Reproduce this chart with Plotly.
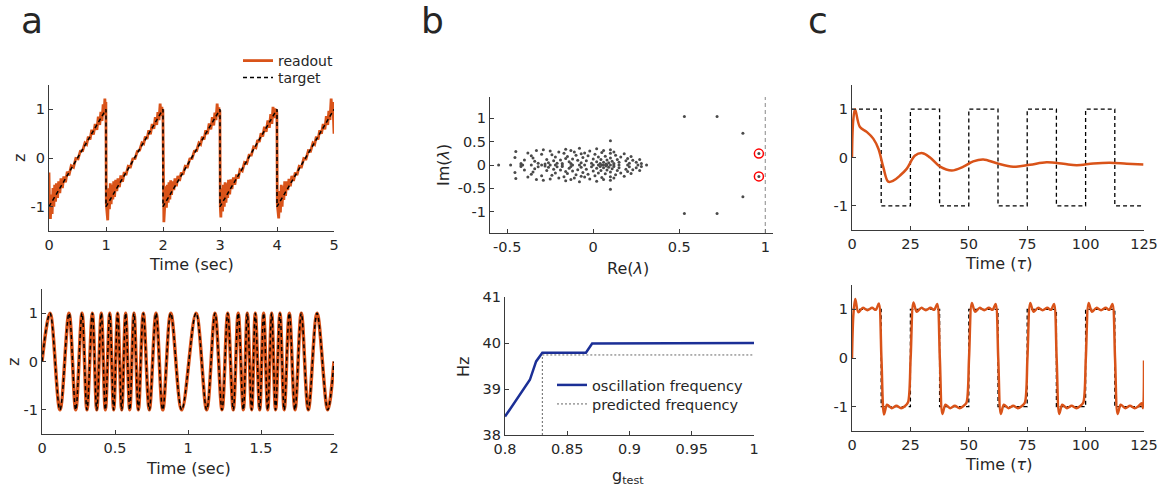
import plotly.graph_objects as go

W, H = 1162, 489
FONT = "DejaVu Sans"
TXT = "#262626"
ORANGE = "#D95319"
BLUE = "#1B2F96"

# ---------------- panel a (top): sawtooth ----------------
SAW_TARGET_T = [0, 1, 1, 2, 2, 3, 3, 4, 4, 5]
SAW_TARGET_Z = [-1, 1, -1, 1, -1, 1, -1, 1, -1, 1]

SAW_READ_T = [
    0.000, 0.010, 0.025, 0.040, 0.055, 0.070, 0.085, 0.100, 0.115, 0.130,
    0.150, 0.170, 0.190, 0.210, 0.235, 0.260, 0.290, 0.320, 0.350, 0.390,
    0.430, 0.470, 0.510, 0.550, 0.590, 0.630, 0.660, 0.690, 0.720, 0.750,
    0.780, 0.810, 0.840, 0.865, 0.890, 0.910, 0.930, 0.950, 0.965, 0.980,
    0.992, 0.998,
    1.005, 1.015, 1.030, 1.045, 1.060, 1.075, 1.090, 1.105, 1.120, 1.135,
    1.150, 1.170, 1.190, 1.210, 1.235, 1.260, 1.290, 1.320, 1.350, 1.390,
    1.430, 1.470, 1.510, 1.550, 1.590, 1.630, 1.660, 1.690, 1.720, 1.750,
    1.780, 1.810, 1.840, 1.865, 1.890, 1.910, 1.930, 1.950, 1.965, 1.980,
    1.992, 1.998,
    2.005, 2.015, 2.030, 2.045, 2.060, 2.075, 2.090, 2.105, 2.120, 2.135,
    2.150, 2.170, 2.190, 2.210, 2.235, 2.260, 2.290, 2.320, 2.350, 2.390,
    2.430, 2.470, 2.510, 2.550, 2.590, 2.630, 2.660, 2.690, 2.720, 2.750,
    2.780, 2.810, 2.840, 2.865, 2.890, 2.910, 2.930, 2.950, 2.965, 2.980,
    2.992, 2.998,
    3.005, 3.015, 3.030, 3.045, 3.060, 3.075, 3.090, 3.105, 3.120, 3.135,
    3.150, 3.170, 3.190, 3.210, 3.235, 3.260, 3.290, 3.320, 3.350, 3.390,
    3.430, 3.470, 3.510, 3.550, 3.590, 3.630, 3.660, 3.690, 3.720, 3.750,
    3.780, 3.810, 3.840, 3.865, 3.890, 3.910, 3.930, 3.950, 3.965, 3.980,
    3.992, 3.998,
    4.005, 4.015, 4.030, 4.045, 4.060, 4.075, 4.090, 4.105, 4.120, 4.135,
    4.150, 4.170, 4.190, 4.210, 4.235, 4.260, 4.290, 4.320, 4.350, 4.390,
    4.430, 4.470, 4.510, 4.550, 4.590, 4.630, 4.660, 4.690, 4.720, 4.750,
    4.780, 4.810, 4.840, 4.865, 4.890, 4.910, 4.930, 4.950, 4.965, 4.980,
    4.992, 5.000,
]
SAW_READ_Z = [
    -0.30, -1.10, -1.25, -0.75, -1.15, -0.62, -1.00, -0.55, -0.90, -0.52,
    -0.82, -0.48, -0.72, -0.42, -0.62, -0.38, -0.50, -0.28, -0.36, -0.16,
    -0.19, -0.01, -0.02, 0.14, 0.15, 0.31, 0.28, 0.44, 0.38, 0.58,
    0.48, 0.70, 0.58, 0.85, 0.68, 0.95, 0.76, 1.10, 0.88, 1.22,
    0.95, 1.15,
    -0.95, -1.15, -1.28, -0.62, -1.05, -0.52, -0.95, -0.55, -0.85, -0.48,
    -0.80, -0.45, -0.68, -0.42, -0.60, -0.36, -0.49, -0.29, -0.35, -0.17,
    -0.18, -0.02, -0.01, 0.14, 0.16, 0.31, 0.29, 0.44, 0.39, 0.57,
    0.49, 0.70, 0.60, 0.84, 0.68, 0.94, 0.78, 1.12, 0.86, 1.05,
    0.88, 1.00,
    -0.90, -1.32, -1.00, -0.58, -1.02, -0.55, -0.92, -0.50, -0.85, -0.46,
    -0.76, -0.48, -0.66, -0.42, -0.58, -0.37, -0.47, -0.30, -0.34, -0.17,
    -0.18, -0.02, -0.01, 0.14, 0.15, 0.31, 0.28, 0.44, 0.38, 0.57,
    0.49, 0.71, 0.59, 0.84, 0.67, 0.93, 0.78, 1.12, 0.86, 1.04,
    0.84, 0.98,
    -1.00, -1.22, -0.62, -1.10, -0.55, -1.00, -0.50, -0.92, -0.52, -0.82,
    -0.45, -0.75, -0.44, -0.64, -0.40, -0.55, -0.34, -0.42, -0.24, -0.27,
    -0.09, -0.11, 0.06, 0.06, 0.23, 0.21, 0.37, 0.33, 0.51, 0.44,
    0.64, 0.54, 0.77, 0.62, 0.90, 0.70, 1.05, 0.82, 1.02, 0.85,
    1.00, 0.92,
    -0.95, -1.18, -1.24, -0.68, -1.12, -0.55, -1.00, -0.58, -0.86, -0.48,
    -0.78, -0.48, -0.66, -0.43, -0.58, -0.37, -0.47, -0.30, -0.35, -0.17,
    -0.18, -0.01, -0.02, 0.15, 0.14, 0.31, 0.28, 0.44, 0.38, 0.57,
    0.50, 0.70, 0.59, 0.86, 0.68, 0.97, 0.78, 1.22, 0.95, 1.15,
    0.70, 0.50,
]

# ---------------- panel a (bottom): chirp (extrema) ----------------
CHIRP_T = [0.0, 0.055, 0.123, 0.185, 0.231, 0.274, 0.308, 0.345, 0.375, 0.406,
           0.434, 0.464, 0.491, 0.518, 0.546, 0.573, 0.601, 0.630, 0.660, 0.694,
           0.735, 0.781, 0.827, 0.882, 0.957, 1.055, 1.128, 1.185, 1.233, 1.272,
           1.310, 1.344, 1.379, 1.406, 1.436, 1.461, 1.491, 1.518, 1.546, 1.573,
           1.600, 1.630, 1.659, 1.694, 1.733, 1.776, 1.824, 1.884, 1.957, 2.0]
CHIRP_Z = [0, 1, -1, 1, -1, 1, -1, 1, -1, 1,
           -1, 1, -1, 1, -1, 1, -1, 1, -1, 1,
           -1, 1, -1, 1, -1, 1, -1, 1, -1, 1,
           -1, 1, -1, 1, -1, 1, -1, 1, -1, 1,
           -1, 1, -1, 1, -1, 1, -1, 1, -1, 0]

# ---------------- panel b (top): eigenvalues ----------------
EIG_REAL_AXIS = [-0.55, -0.48, -0.42, -0.41, -0.36, -0.30, -0.25, -0.22, -0.18, -0.12,
                 -0.08, -0.05, 0.0, 0.03, 0.05, 0.06, 0.08, 0.10, 0.12, 0.15, 0.20, 0.26, 0.31]
EIG_UP_RE = [-0.45, -0.455, -0.42, -0.36, -0.35, -0.33, -0.34, -0.32, -0.29, -0.27,
             -0.26, -0.24, -0.23, -0.22, -0.21, -0.19, -0.17, -0.16, -0.15, -0.14,
             -0.13, -0.12, -0.11, -0.10, -0.09, -0.08, -0.07, -0.06, -0.05, -0.04,
             -0.03, -0.02, -0.01, 0.00, 0.01, 0.02, 0.03, 0.04, 0.045, 0.05,
             0.06, 0.07, 0.075, 0.08, 0.09, 0.10, 0.10, 0.10, 0.10, 0.11,
             0.12, 0.13, 0.14, 0.15, 0.16, 0.18, 0.19, 0.20, 0.21, 0.22,
             0.23, 0.25, 0.27, 0.28, -0.38, -0.40, -0.30, -0.28, -0.25, -0.20,
             -0.18, -0.16, -0.13, 0.02, 0.06, 0.12, -0.07,
             0.53, 0.72, 0.87, 0.963]
EIG_UP_IM = [0.29, 0.16, 0.03, 0.20, 0.15, 0.31, 0.08, 0.04, 0.33, 0.12,
             0.05, 0.22, 0.09, 0.17, 0.04, 0.11, 0.25, 0.34, 0.18, 0.07,
             0.03, 0.13, 0.28, 0.21, 0.10, 0.36, 0.05, 0.16, 0.26, 0.09,
             0.20, 0.30, 0.04, 0.13, 0.23, 0.07, 0.17, 0.03, 0.12, 0.27,
             0.06, 0.19, 0.02, 0.11, 0.05, 0.52, 0.33, 0.25, 0.15, 0.08,
             0.03, 0.21, 0.12, 0.06, 0.17, 0.24, 0.09, 0.14, 0.04, 0.18,
             0.10, 0.06, 0.12, 0.03, 0.26, 0.11, 0.23, 0.02, 0.30, 0.28,
             0.03, 0.14, 0.31, 0.35, 0.31, 0.28, 0.24,
             1.04, 1.04, 0.68, 0.245]
EIG_SEL_RE = [0.963, 0.963]
EIG_SEL_IM = [0.245, -0.245]

# ---------------- panel b (bottom): frequency ----------------
OSC_G = [0.800, 0.812, 0.820, 0.825, 0.830, 0.865, 0.870, 1.000]
OSC_HZ = [38.40, 38.87, 39.20, 39.60, 39.79, 39.79, 39.99, 40.00]
PRED_G = [0.830, 0.830, 1.000]
PRED_HZ = [38.00, 39.74, 39.74]

# ---------------- panel c: square wave ----------------
SQ_T = [0, 12.5, 12.5, 25, 25, 37.5, 37.5, 50, 50, 62.5, 62.5, 75, 75, 87.5, 87.5,
        100, 100, 112.5, 112.5, 125]
SQ_Z = [1, 1, -1, -1, 1, 1, -1, -1, 1, 1, -1, -1, 1, 1, -1, -1, 1, 1, -1, -1]

DAMP_T = [0, 0.5, 1.3, 3.4, 6.3, 9.1, 11.3, 13.4, 15.5, 17.7, 20.5, 23.4, 27.0, 30.2,
          33.4, 37.7, 42.7, 47.7, 51.9, 56.2, 62.0, 69.0, 76.2, 83.3, 90.5, 96.2,
          103.3, 110.4, 117.6, 124.7]
DAMP_Z = [0, 0.75, 1.0, 0.63, 0.53, 0.39, 0.18, -0.20, -0.50, -0.48, -0.375, -0.235,
          0.04, 0.09, 0.0, -0.19, -0.27, -0.19, -0.08, -0.04, -0.12, -0.19, -0.15,
          -0.10, -0.13, -0.16, -0.125, -0.11, -0.13, -0.145]

TRAIN_T = [0, 0.6, 1.4, 2.7, 4.6, 6.6, 8.6, 10.2, 11.5, 12.6, 13.7, 15.0, 17.0, 19.0, 21.0, 22.6, 24.0,
           25.1, 26.3, 27.7, 29.6, 31.6, 33.6, 35.2, 36.5, 37.6, 38.7, 40.0, 42.0, 44.0, 46.0, 47.6, 49.0,
           50.1, 51.3, 52.7, 54.6, 56.6, 58.6, 60.2, 61.5, 62.6, 63.7, 65.0, 67.0, 69.0, 71.0, 72.6, 74.0,
           75.1, 76.3, 77.7, 79.6, 81.6, 83.6, 85.2, 86.5, 87.6, 88.7, 90.0, 92.0, 94.0, 96.0, 97.6, 99.0,
           100.1, 101.3, 102.7, 104.6, 106.6, 108.6, 110.2, 111.5, 112.6, 113.7, 115.0, 117.0, 119.0,
           121.0, 122.6, 124.0, 124.6, 125.0]
TRAIN_Z = [0, 0.90, 1.21, 0.94, 1.03, 0.98, 1.03, 0.99, 1.12, 0.0, -1.16, -0.96, -1.03, -0.98, -1.03, -0.99, -0.91,
           0.0, 1.14, 0.95, 1.03, 0.98, 1.03, 0.99, 1.11, 0.0, -1.15, -0.96, -1.03, -0.98, -1.03, -0.99, -0.92,
           0.0, 1.13, 0.95, 1.03, 0.98, 1.03, 0.99, 1.11, 0.0, -1.15, -0.96, -1.03, -0.98, -1.03, -0.99, -0.92,
           0.0, 1.13, 0.95, 1.03, 0.98, 1.03, 0.99, 1.11, 0.0, -1.15, -0.96, -1.03, -0.98, -1.03, -0.99, -0.92,
           0.0, 1.13, 0.95, 1.03, 0.98, 1.03, 0.99, 1.11, 0.0, -1.15, -0.96, -1.03, -0.98,
           -1.03, -0.99, -0.93, -1.03, -0.05]

# tick labels
TK_Z = ([-1, 0, 1], ["-1", "0", "1"])
TK_SAW_X = ([0, 1, 2, 3, 4, 5], ["0", "1", "2", "3", "4", "5"])
TK_CHIRP_X = ([0, 0.5, 1, 1.5, 2], ["0", "0.5", "1", "1.5", "2"])
TK_RE = ([-0.5, 0, 0.5, 1], ["-0.5", "0", "0.5", "1"])
TK_IM = ([-1, -0.5, 0, 0.5, 1], ["-1", "-0.5", "0", "0.5", "1"])
TK_G = ([0.8, 0.85, 0.9, 0.95, 1.0], ["0.8", "0.85", "0.9", "0.95", "1"])
TK_HZ = ([38, 39, 40, 41], ["38", "39", "40", "41"])
TK_TAU = ([0, 25, 50, 75, 100, 125], ["0", "25", "50", "75", "100", "125"])


def px_x(a, b):
    return [a / W, b / W]


def px_y(top, bot):
    return [1 - bot / H, 1 - top / H]


def axis(domain, rng, ticks, anchor):
    return dict(domain=domain, range=rng, tickvals=ticks[0], ticktext=ticks[1],
                anchor=anchor, showline=True, linecolor="#3a3a3a", linewidth=1.3,
                ticks="inside", ticklen=4, tickwidth=1, tickcolor="#3a3a3a",
                showgrid=False, zeroline=False, fixedrange=True, automargin=False,
                tickfont=dict(family=FONT, size=14.5, color=TXT))


def legend_at(left, center_y, size=14):
    return dict(x=left / W, y=1 - (center_y - 16) / H, xanchor="left", yanchor="top",
                bgcolor="rgba(0,0,0,0)", font=dict(family=FONT, size=size, color=TXT),
                tracegroupgap=0, itemwidth=30)


fig = go.Figure()
DASH = "4px,3px"

# a top
fig.add_trace(go.Scatter(x=SAW_READ_T, y=SAW_READ_Z, mode="lines", name="readout",
                         line=dict(color=ORANGE, width=2.8), xaxis="x", yaxis="y",
                         legend="legend"))
fig.add_trace(go.Scatter(x=SAW_TARGET_T, y=SAW_TARGET_Z, mode="lines", name="target",
                         line=dict(color="black", width=1.5, dash=DASH), xaxis="x", yaxis="y",
                         legend="legend3"))
# a bottom
fig.add_trace(go.Scatter(x=CHIRP_T, y=CHIRP_Z, mode="lines", showlegend=False,
                         line=dict(color=ORANGE, width=3.5, shape="spline"), xaxis="x2", yaxis="y2"))
fig.add_trace(go.Scatter(x=CHIRP_T, y=CHIRP_Z, mode="lines", showlegend=False,
                         line=dict(color="black", width=1.5, dash=DASH, shape="spline"),
                         xaxis="x2", yaxis="y2"))
# b top
eig_re = EIG_REAL_AXIS + EIG_UP_RE + EIG_UP_RE
eig_im = [0] * len(EIG_REAL_AXIS) + EIG_UP_IM + [-v for v in EIG_UP_IM]
fig.add_trace(go.Scatter(x=eig_re, y=eig_im, mode="markers", showlegend=False,
                         marker=dict(color="#4a4a4a", size=3), xaxis="x3", yaxis="y3"))
fig.add_trace(go.Scatter(x=EIG_SEL_RE, y=EIG_SEL_IM, mode="markers", showlegend=False,
                         marker=dict(symbol="circle-open", color="red", size=9,
                                     line=dict(width=1.5, color="red")),
                         xaxis="x3", yaxis="y3"))
# b bottom
fig.add_trace(go.Scatter(x=OSC_G, y=OSC_HZ, mode="lines", name="oscillation frequency",
                         line=dict(color=BLUE, width=2.5), xaxis="x4", yaxis="y4",
                         legend="legend2"))
fig.add_trace(go.Scatter(x=PRED_G, y=PRED_HZ, mode="lines", name="predicted frequency",
                         line=dict(color="#666666", width=1, dash="2px,2px"), xaxis="x4", yaxis="y4",
                         legend="legend4"))
# c top
fig.add_trace(go.Scatter(x=SQ_T, y=SQ_Z, mode="lines", showlegend=False,
                         line=dict(color="black", width=1.3, dash=DASH), xaxis="x5", yaxis="y5"))
fig.add_trace(go.Scatter(x=DAMP_T, y=DAMP_Z, mode="lines", showlegend=False,
                         line=dict(color=ORANGE, width=2.5, shape="spline"), xaxis="x5", yaxis="y5"))
# c bottom
fig.add_trace(go.Scatter(x=SQ_T, y=SQ_Z, mode="lines", showlegend=False,
                         line=dict(color="black", width=1.3, dash=DASH), xaxis="x6", yaxis="y6"))
fig.add_trace(go.Scatter(x=TRAIN_T, y=TRAIN_Z, mode="lines", showlegend=False,
                         line=dict(color=ORANGE, width=2.5, shape="spline", smoothing=0.8),
                         xaxis="x6", yaxis="y6"))

layout = dict(
    width=W, height=H, margin=dict(l=0, r=0, t=0, b=0, autoexpand=False),
    paper_bgcolor="white", plot_bgcolor="white",
    font=dict(family=FONT, color=TXT),
    xaxis=axis(px_x(49, 334), [0, 5], TK_SAW_X, "y"),
    yaxis=axis(px_y(85, 231), [-1.5, 1.5], TK_Z, "x"),
    xaxis2=axis(px_x(42, 334), [0, 2], TK_CHIRP_X, "y2"),
    yaxis2=axis(px_y(289, 434), [-1.5, 1.5], TK_Z, "x2"),
    xaxis3=axis(px_x(490, 773), [-0.6, 1.045], TK_RE, "y3"),
    yaxis3=axis(px_y(97, 233), [-1.46, 1.46], TK_IM, "x3"),
    xaxis4=axis(px_x(505, 754), [0.8, 1.0], TK_G, "y4"),
    yaxis4=axis(px_y(297, 435), [38, 41], TK_HZ, "x4"),
    xaxis5=axis(px_x(852, 1144), [0, 125], TK_TAU, "y5"),
    yaxis5=axis(px_y(85, 230), [-1.5, 1.5], TK_Z, "x5"),
    xaxis6=axis(px_x(852, 1144), [0, 125], TK_TAU, "y6"),
    yaxis6=axis(px_y(285, 431), [-1.5, 1.5], TK_Z, "x6"),
    legend=legend_at(238, 61),
    legend3=legend_at(238, 78),
    legend2=legend_at(552, 385, 14.5),
    legend4=legend_at(552, 404, 14.5),
    shapes=[dict(type="line", xref="x3", yref="y3 domain", x0=1, x1=1, y0=0, y1=1,
                 line=dict(color="#888888", width=1, dash="4px,3px"))],
)
fig.update_layout(**layout)


def label(text, x, y, size=16, angle=0):
    fig.add_annotation(text=text, x=x / W, y=1 - y / H, xref="paper", yref="paper",
                       showarrow=False, textangle=angle, xanchor="center", yanchor="middle",
                       font=dict(family=FONT, size=size, color=TXT))


label("a", 32, 20, size=36)
label("b", 432, 20, size=36)
label("c", 818, 20, size=36)
label("z", 19, 158, angle=-90)
label("Time (sec)", 191, 264)
label("z", 13, 362, angle=-90)
label("Time (sec)", 188, 468)
label("Im(<i>λ</i>)", 443, 165, angle=-90)
label("Re(<i>λ</i>)", 628, 268)
label("Hz", 463, 367, angle=-90)
label("g<sub>test</sub>", 628, 476)
label("Time (<i>τ</i>)", 998, 263)
label("Time (<i>τ</i>)", 998, 464)

fig.write_html("out.html", config={"displayModeBar": False},
               post_script="document.body.style.margin='0';")
